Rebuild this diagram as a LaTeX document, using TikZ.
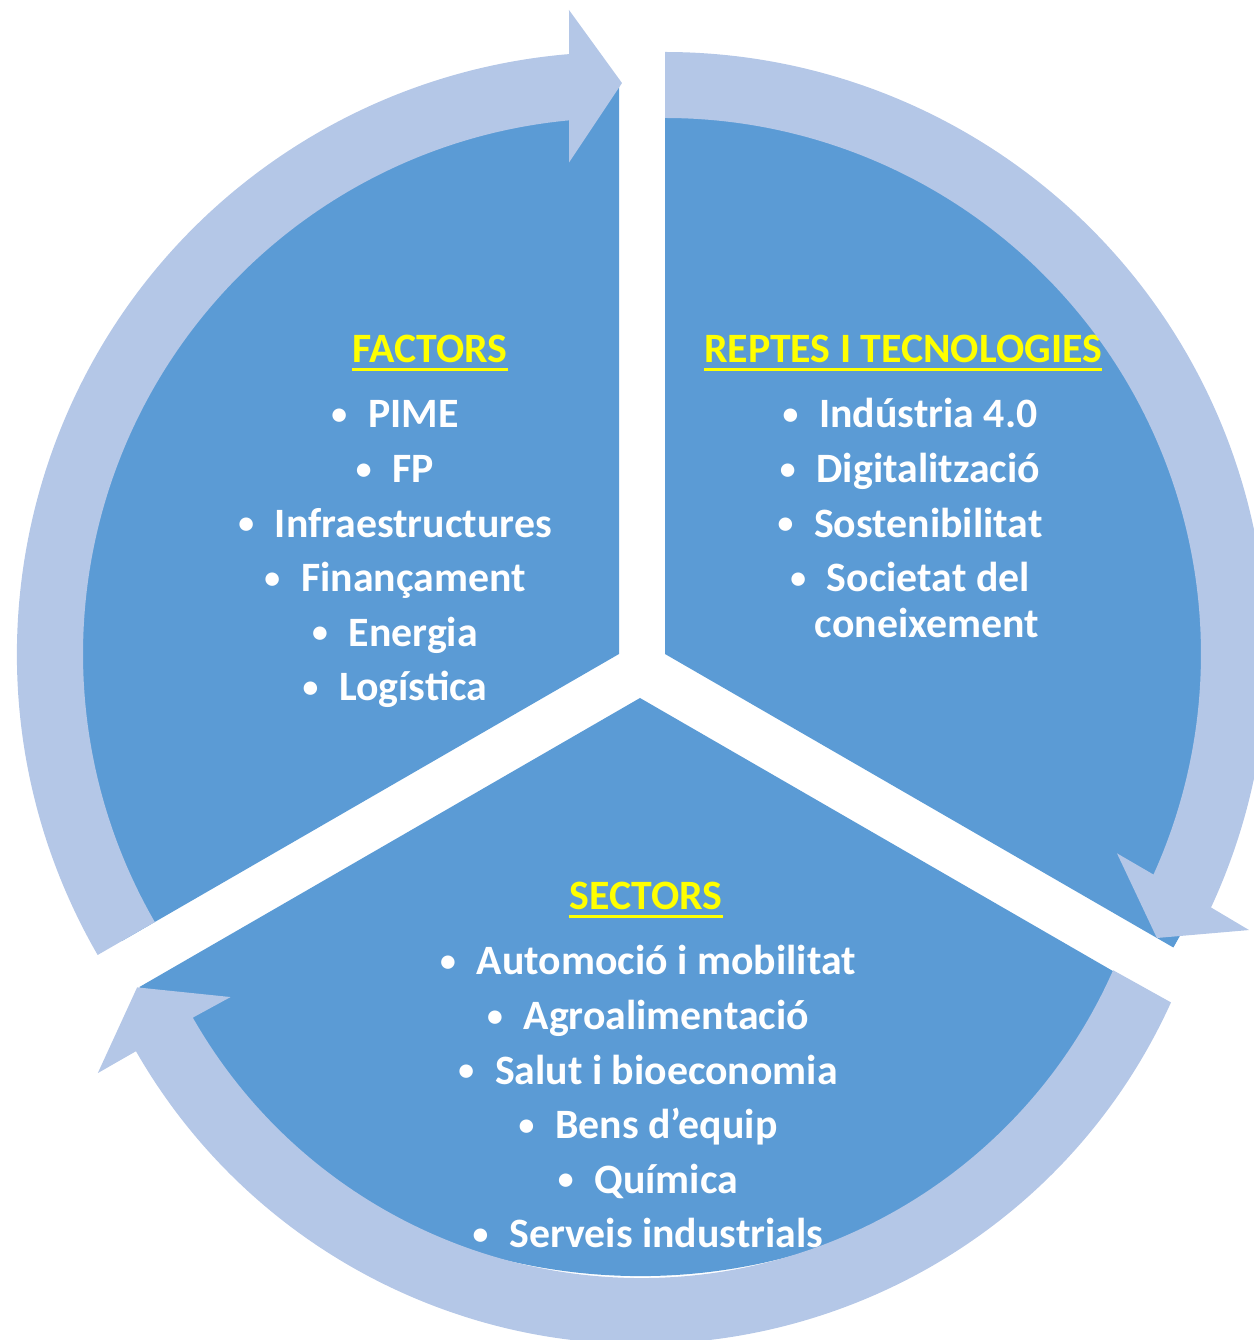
\documentclass[tikz,border=0pt]{standalone}
\usepackage{fontspec}
\setmainfont{Carlito}
\usetikzlibrary{positioning}
\usetikzlibrary{calc}

\definecolor{segblue}{HTML}{5B9BD5}
\definecolor{ringblue}{HTML}{B4C7E7}
\definecolor{headyellow}{HTML}{FFFF00}

\begin{document}
\begin{tikzpicture}[x=0.02cm, y=0.02cm]

\def\LineSkip{1.092cm}
\def\BulletMark{\raisebox{2pt}{\fontsize{18pt}{20pt}\selectfont\textbullet}\hspace{0.5em}}

% Styles
\tikzstyle{wedge} =
	[fill=segblue]

\tikzstyle{cycle arrow} =
	[fill=ringblue]

\tikzstyle{entry} =
	[text=white, inner sep=0pt, anchor=base,
	 font=\fontsize{23.8pt}{28pt}\selectfont\bfseries]

\tikzstyle{heading} =
	[entry, text=headyellow]

\tikzstyle{heading line} =
	[draw=headyellow, line width=0.06cm]

\useasboundingbox (0,0) rectangle (1254,1340);

% Centres
\coordinate (FactorsC) at (619,686);
\coordinate (ReptesC) at (665,686);
\coordinate (SectorsC) at (640,642);
\coordinate (SectorsArrowC) at (641,578);

% Segments
\fill[wedge] (FactorsC) -- ++(90:574)
	arc[start angle=90, end angle=210, radius=574] -- cycle;
\fill[wedge] (ReptesC) -- ++(-30:587)
	arc[start angle=-30, end angle=90, radius=587] -- cycle;
\fill[wedge] (SectorsC) -- ++(210:578)
	arc[start angle=210, end angle=330, radius=578] -- cycle;

% Texts

\node[heading] (Factors) at (430,977) {FACTORS};
\node[entry] (Pime) at (395,912) {\BulletMark PIME};
\node[entry, below=\LineSkip of Pime.base, anchor=base] (Fp) {\BulletMark FP};
\node[entry, below=\LineSkip of Fp.base, anchor=base] (Infra) {\BulletMark Infraestructures};
\node[entry, below=\LineSkip of Infra.base, anchor=base] (Finan) {\BulletMark Finançament};
\node[entry, below=\LineSkip of Finan.base, anchor=base] (Energia) {\BulletMark Energia};
\node[entry, below=\LineSkip of Energia.base, anchor=base] (Logis) {\BulletMark Logística};

\node[heading] (Reptes) at (903,977) {REPTES I TECNOLOGIES};
\node[entry] (Industria) at (910,912) {\BulletMark Indústria 4.0};
\node[entry, below=\LineSkip of Industria.base, anchor=base] (Digital) {\BulletMark Digitalització};
\node[entry, below=\LineSkip of Digital.base, anchor=base] (Sosten) {\BulletMark Sostenibilitat};
\node[entry, below=\LineSkip of Sosten.base, anchor=base] (Societat) {\BulletMark Societat del};
\node[entry, anchor=base] (Coneix) at ($(Societat.base)+(17,-46)$) {coneixement};

\node[heading] (Sectors) at (646,430) {SECTORS};
\node[entry] (Automocio) at (648,365) {\BulletMark Automoció i mobilitat};
\node[entry, below=\LineSkip of Automocio.base, anchor=base] (Agro) {\BulletMark Agroalimentació};
\node[entry, below=\LineSkip of Agro.base, anchor=base] (Salut) {\BulletMark Salut i bioeconomia};
\node[entry, below=\LineSkip of Salut.base, anchor=base] (Bens) {\BulletMark Bens d’equip};
\node[entry, below=\LineSkip of Bens.base, anchor=base] (Quimica) {\BulletMark Química};
\node[entry, below=\LineSkip of Quimica.base, anchor=base] (Serveis) {\BulletMark Serveis industrials};

\foreach \h in {Factors, Reptes, Sectors}
	\draw[heading line] ([yshift=-0.13cm]\h.base west) -- ([yshift=-0.13cm]\h.base east);

% Arrows

\fill[cycle arrow] ($(FactorsC)+(210:602)$)
	arc[start angle=210, end angle=94.76, radius=602]
	-- ($(FactorsC)+(94.44:646)$) -- ($(FactorsC)+(89.7:571)$)
	-- ($(FactorsC)+(95.81:494)$) -- ($(FactorsC)+(95.35:536)$)
	arc[start angle=95.35, end angle=210, radius=536] -- cycle;

\fill[cycle arrow] ($(ReptesC)+(90:602)$)
	arc[start angle=90, end angle=-24.9, radius=602]
	-- ($(ReptesC)+(-25.3:646)$) -- ($(ReptesC)+(-30:568)$)
	-- ($(ReptesC)+(-23.8:494)$) -- ($(ReptesC)+(-24.3:536)$)
	arc[start angle=-24.3, end angle=90, radius=536] -- cycle;

\fill[cycle arrow] ($(SectorsArrowC)+(-24.4:582)$)
	arc[start angle=-24.4, end angle=-150.2, radius=582]
	-- ($(SectorsArrowC)+(-150.2:626)$) -- ($(SectorsArrowC)+(-155.9:552)$)
	-- ($(SectorsArrowC)+(-150.2:473)$) -- ($(SectorsArrowC)+(-150.3:516)$)
	arc[start angle=-150.3, end angle=-23.8, radius=516] -- cycle;

\end{tikzpicture}
\end{document}
